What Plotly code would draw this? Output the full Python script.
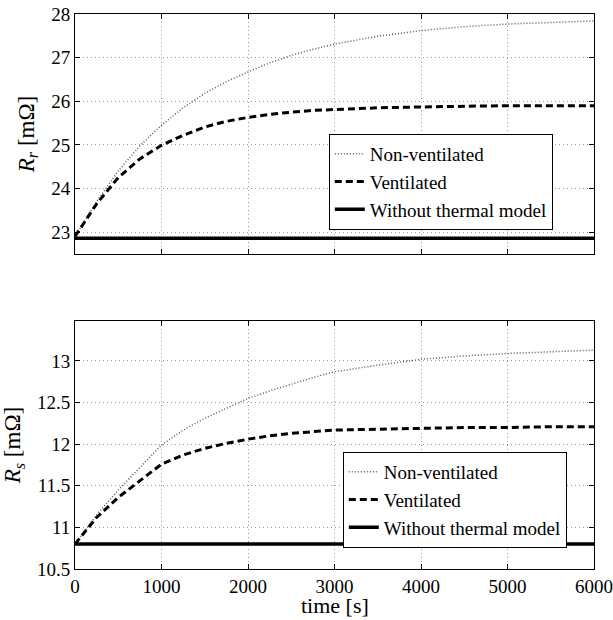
import plotly.graph_objects as go
from plotly.subplots import make_subplots

# time [s]
time_s = [0, 250, 500, 750, 1000, 1250, 1500, 1750, 2000, 2250, 2500, 2750,
          3000, 3500, 4000, 4500, 5000, 5500, 6000]

# Rotor resistance Rr [mOhm]
rr_nonvent = [22.9, 23.7, 24.4, 24.98, 25.45, 25.85, 26.18, 26.45, 26.67, 26.88,
              27.05, 27.19, 27.31, 27.49, 27.62, 27.71, 27.77, 27.81, 27.84]
rr_vent = [22.9, 23.65, 24.25, 24.68, 24.99, 25.22, 25.41, 25.54, 25.63, 25.7,
           25.75, 25.79, 25.81, 25.85, 25.87, 25.89, 25.9, 25.9, 25.9]
rr_const = [22.86] * len(time_s)

# Stator resistance Rs [mOhm]
rs_nonvent = [10.8, 11.15, 11.45, 11.72, 11.99, 12.17, 12.31, 12.43, 12.55, 12.64,
              12.72, 12.8, 12.87, 12.95, 13.02, 13.06, 13.09, 13.11, 13.13]
rs_vent = [10.8, 11.12, 11.36, 11.56, 11.76, 11.87, 11.95, 12.01, 12.06, 12.1,
           12.13, 12.15, 12.17, 12.18, 12.19, 12.2, 12.2, 12.21, 12.21]
rs_const = [10.8] * len(time_s)

names = ["Non-ventilated", "Ventilated", "Without thermal model"]
x_ticks = [0, 1000, 2000, 3000, 4000, 5000, 6000]
rr_ticks = [23, 24, 25, 26, 27, 28]
rs_ticks = [10.5, 11, 11.5, 12, 12.5, 13]

FONT = "Liberation Serif, DejaVu Serif"

styles = [
    dict(color="#5a5a5a", width=1.5, dash="1px,2px"),
    dict(color="black", width=3, dash="7px,4px"),
    dict(color="black", width=3.5, dash="solid"),
]

fig = make_subplots(rows=2, cols=1, vertical_spacing=0.0)

for series, st, nm in zip([rr_nonvent, rr_vent, rr_const], styles, names):
    fig.add_trace(go.Scatter(x=time_s, y=series, mode="lines", name=nm,
                             line=st, legend="legend"), row=1, col=1)
for series, st, nm in zip([rs_nonvent, rs_vent, rs_const], styles, names):
    fig.add_trace(go.Scatter(x=time_s, y=series, mode="lines", name=nm,
                             line=st, legend="legend2"), row=2, col=1)

axis_common = dict(
    showline=True, linecolor="black", linewidth=1, mirror="ticks",
    ticks="inside", ticklen=5, tickcolor="black",
    showgrid=True, gridcolor="#9a9a9a", gridwidth=1, griddash="1px,3px",
    zeroline=False, automargin=False, ticklabeloverflow="allow",
    tickfont=dict(family=FONT, size=19, color="black"),
)

fig.update_xaxes(range=[0, 6000], tickvals=x_ticks, **axis_common)
fig.update_xaxes(showticklabels=False, row=1, col=1)

fig.update_yaxes(range=[22.5, 28], tickvals=rr_ticks, row=1, col=1,
                 title=dict(text="<i>R</i><sub><i>r</i></sub> [mΩ]",
                            font=dict(family=FONT, size=23, color="black"), standoff=10),
                 **axis_common)
fig.update_yaxes(range=[10.5, 13.48], tickvals=rs_ticks, row=2, col=1,
                 title=dict(text="<i>R</i><sub><i>s</i></sub> [mΩ]",
                            font=dict(family=FONT, size=23, color="black"), standoff=10),
                 **axis_common)

fig.update_layout(yaxis=dict(domain=[0.5676, 1.0]), yaxis2=dict(domain=[0.0, 0.4468]))

# x-axis title of the lower panel
fig.add_annotation(text="time [s]", xref="paper", yref="paper", x=0.5, y=-0.0919,
                   xanchor="center", yanchor="bottom", showarrow=False,
                   font=dict(family=FONT, size=22, color="black"))

legend_common = dict(
    bgcolor="white", bordercolor="black", borderwidth=1,
    font=dict(family=FONT, size=19, color="black"),
    xanchor="left", yanchor="top", itemwidth=30, tracegroupgap=0,
)

fig.update_layout(
    width=613, height=620,
    margin=dict(l=75, r=19, t=14, b=51),
    paper_bgcolor="white", plot_bgcolor="white",
    font=dict(family=FONT, color="black"),
    showlegend=True,
    legend=dict(x=0.489, y=0.784, **legend_common),
    legend2=dict(x=0.516, y=0.2108, **legend_common),
)

fig.write_html("out.html", config={"displayModeBar": False},
               post_script="document.body.style.margin='0';document.body.style.padding='0';")
